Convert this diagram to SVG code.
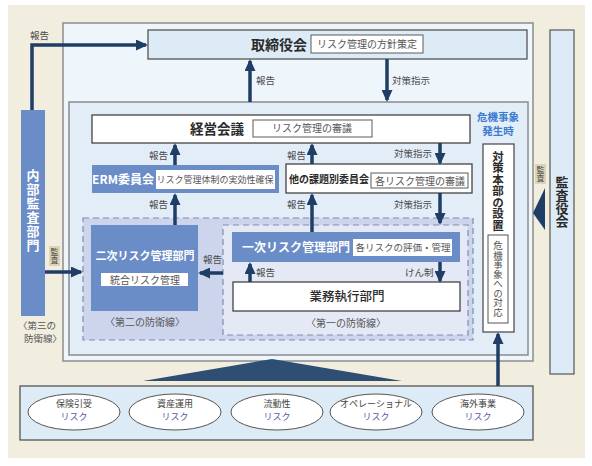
<svg xmlns="http://www.w3.org/2000/svg" width="592" height="466" viewBox="0 0 592 466">
<defs>
<marker id="ah" markerUnits="userSpaceOnUse" markerWidth="12" markerHeight="11" refX="10" refY="5.5" orient="auto">
<path d="M0,0 L12,5.5 L0,11 z" fill="#1F3E66"/>
</marker>
<style>
text{font-family:"Noto Sans CJK JP","Noto Sans",sans-serif;}
.ar{fill:none;stroke:#1F3E66;stroke-width:3.5;marker-end:url(#ah);}
.lb{font-size:9.5px;fill:#4a4a4a;}
.sub{fill:#fff;stroke:#5a5a5a;stroke-width:1;}
.subt{font-size:10px;fill:#555;text-anchor:middle;}
.blue{fill:#6A8CC7;}
.wt{fill:#fff;font-weight:bold;}
.bd{fill:#2a2a2a;font-weight:bold;}
.vt{writing-mode:vertical-rl;text-anchor:middle;}
.ell{fill:#fff;stroke:#555;stroke-width:1;}
.et1{font-size:9px;fill:#444;text-anchor:middle;}
.et2{font-size:9px;fill:#5a57a8;text-anchor:middle;}
.dl{font-size:10px;fill:#555;text-anchor:middle;}
</style>
</defs>
<rect x="0" y="0" width="592" height="466" fill="#fff"/>
<rect x="8" y="5" width="577" height="453" fill="#F1EEDF"/>

<g id="board-area">
<rect x="63" y="23" width="470" height="338" fill="#EEF5FB" stroke="#8c8c8c" stroke-width="1.5"/>
</g>
<g id="mgmt-area">
<rect x="69" y="102" width="459" height="253" fill="#E3EDF8" stroke="#8c8c8c" stroke-width="1.5"/>
</g>

<g id="torishimari">
<rect x="148" y="30" width="379" height="29" fill="#DDEBF7" stroke="#555" stroke-width="1.3"/>
<text x="279" y="50" font-size="14" class="bd" text-anchor="middle">取締役会</text>
<rect x="311" y="35" width="112" height="18" class="sub"/>
<text x="367" y="48" class="subt">リスク管理の方針策定</text>
</g>

<g id="keiei">
<rect x="92" y="115" width="378" height="28" fill="#fff" stroke="#444" stroke-width="1.3"/>
<text x="217" y="134" font-size="13.5" class="bd" text-anchor="middle">経営会議</text>
<rect x="253" y="120" width="119" height="17" class="sub"/>
<text x="312" y="132" class="subt">リスク管理の審議</text>
</g>

<g id="erm">
<rect x="92" y="165" width="187" height="28" class="blue"/>
<text x="123" y="184" font-size="12" class="wt" text-anchor="middle">ERM委員会</text>
<rect x="156" y="170" width="119" height="19" fill="#fff"/>
<text x="215" y="183" font-size="9" fill="#555" text-anchor="middle">リスク管理体制の実効性確保</text>
</g>

<g id="other">
<rect x="286" y="164" width="186" height="29" fill="#fff" stroke="#444" stroke-width="1.3"/>
<text x="329" y="183" font-size="10" class="bd" text-anchor="middle">他の課題別委員会</text>
<rect x="371" y="173" width="97" height="15" class="sub"/>
<text x="420" y="184.5" class="subt">各リスク管理の審議</text>
</g>

<g id="crisis">
<text x="498" y="121" font-size="10.5" font-weight="bold" fill="#3C7CD0" text-anchor="middle">危機事象</text>
<text x="498" y="135" font-size="10.5" font-weight="bold" fill="#3C7CD0" text-anchor="middle">発生時</text>
<rect x="483" y="144" width="31" height="188" fill="#fff" stroke="#444" stroke-width="1.2"/>
<text x="498" y="191" font-size="11.5" class="bd vt">対策本部の設置</text>
<rect x="488" y="235" width="20" height="88" fill="#fff" stroke="#555" stroke-width="1"/>
<text x="498" y="279" font-size="9.5" fill="#555" class="vt">危機事象への対応</text>
</g>

<g id="second-line">
<rect x="83" y="218" width="390" height="122" fill="#CCD5EC" stroke="#7f8db0" stroke-width="1.2" stroke-dasharray="6,4"/>
<text x="145" y="326" class="dl">〈第二の防衛線〉</text>
</g>
<g id="niji">
<rect x="91" y="225" width="107" height="86" class="blue"/>
<text x="145" y="260" font-size="11" class="wt" text-anchor="middle">二次リスク管理部門</text>
<rect x="101" y="273" width="87" height="13" fill="#fff"/>
<text x="145" y="283.5" class="subt">統合リスク管理</text>
</g>

<g id="first-line">
<rect x="223" y="225" width="245" height="110" fill="#E4E9F5" stroke="#7f8db0" stroke-width="1.2" stroke-dasharray="6,4"/>
<text x="346" y="327" class="dl">〈第一の防衛線〉</text>
</g>
<g id="ichiji">
<rect x="232" y="232" width="228" height="30" class="blue"/>
<text x="296" y="252" font-size="12" class="wt" text-anchor="middle">一次リスク管理部門</text>
<rect x="353" y="239" width="99" height="17" fill="#fff"/>
<text x="403" y="251" font-size="9.5" fill="#555" text-anchor="middle">各リスクの評価・管理</text>
</g>
<g id="gyomu">
<rect x="233" y="282" width="227" height="29" fill="#fff" stroke="#444" stroke-width="1.3"/>
<text x="347" y="301" font-size="12.5" fill="#2a2a2a" font-weight="500" text-anchor="middle">業務執行部門</text>
</g>

<g id="naibu">
<rect x="21" y="110" width="24" height="206" class="blue"/>
<text x="33" y="211" font-size="13" class="wt vt" letter-spacing="1">内部監査部門</text>
<text x="37" y="329" font-size="9.5" fill="#555" text-anchor="middle">〈第三の</text>
<text x="43" y="342" font-size="9.5" fill="#555" text-anchor="middle">防衛線〉</text>
</g>

<g id="kansayaku">
<rect x="550" y="30" width="24" height="344" fill="#DDEBF7" stroke="#555" stroke-width="1.2"/>
<text x="562" y="202" font-size="13" class="bd vt" fill="#2a3f60">監査役会</text>
</g>

<g id="risks">
<rect x="20" y="386" width="513" height="54" fill="#DDEBF7" stroke="#555" stroke-width="1.3"/>
<g id="risk1"><ellipse cx="74" cy="412" rx="46" ry="18" class="ell"/><text x="74" y="407" class="et1">保険引受</text><text x="74" y="420" class="et2">リスク</text></g>
<g id="risk2"><ellipse cx="175" cy="412" rx="46" ry="18" class="ell"/><text x="175" y="407" class="et1">資産運用</text><text x="175" y="420" class="et2">リスク</text></g>
<g id="risk3"><ellipse cx="277" cy="412" rx="46" ry="18" class="ell"/><text x="277" y="407" class="et1">流動性</text><text x="277" y="420" class="et2">リスク</text></g>
<g id="risk4"><ellipse cx="376" cy="412" rx="46" ry="18" class="ell"/><text x="376" y="407" class="et1" font-size="8.5">オペレーショナル</text><text x="376" y="420" class="et2">リスク</text></g>
<g id="risk5"><ellipse cx="478" cy="412" rx="46" ry="18" class="ell"/><text x="478" y="407" class="et1">海外事業</text><text x="478" y="420" class="et2">リスク</text></g>
</g>

<g id="connectors">
<path class="ar" d="M32,110 V45 H146"/>
<text x="30" y="39" class="lb">報告</text>
<path class="ar" d="M250,102 V61"/>
<text x="256" y="84" class="lb">報告</text>
<path class="ar" d="M387,59 V100"/>
<text x="392" y="84" class="lb">対策指示</text>
<path class="ar" d="M175,165 V145"/>
<text x="149" y="159" class="lb">報告</text>
<path class="ar" d="M312,164 V145"/>
<text x="287" y="159" class="lb">報告</text>
<path class="ar" d="M440,143 V163"/>
<text x="394" y="157" class="lb">対策指示</text>
<path class="ar" d="M175,225 V195"/>
<text x="149" y="208" class="lb">報告</text>
<path class="ar" d="M312,232 V195"/>
<text x="287" y="208" class="lb">報告</text>
<path class="ar" d="M440,193 V223"/>
<text x="394" y="208" class="lb">対策指示</text>
<path class="ar" d="M223,273 H200"/>
<text x="203" y="263" class="lb">報告</text>
<path class="ar" d="M250,282 V264"/>
<text x="256" y="276" class="lb">報告</text>
<path class="ar" d="M440,262 V281"/>
<text x="405" y="276" class="lb">けん制</text>
<path class="ar" d="M45,272 H81"/>
<rect x="49" y="246" width="11" height="20" fill="#DCD4B6"/>
<text x="54.5" y="256" font-size="8" fill="#4a4a4a" class="vt">監査</text>
<path class="ar" d="M498,386 V334"/>
<polygon points="533,213 545,188 545,230" fill="#1F3E66"/>
<rect x="535" y="164" width="11" height="20" fill="#DCD4B6"/>
<text x="540.5" y="174" font-size="8" fill="#4a4a4a" class="vt">監査</text>
<polygon points="143,381 272,359 402,381" fill="#2F4E74"/>
</g>
</svg>
